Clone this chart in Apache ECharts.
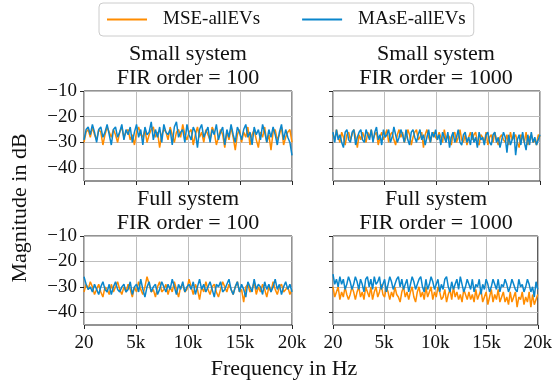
<!DOCTYPE html>
<html>
<head>
<meta charset="utf-8">
<script src="https://cdn.jsdelivr.net/npm/echarts@6/dist/echarts.min.js"></script>
<style>
  html, body { margin: 0; padding: 0; background: #fff; }
  #chart { width: 555px; height: 383px; }
</style>
</head>
<body>
<div id="chart"></div>
<script>
// series names / labels
const seriesNames = ['MSE-allEVs', 'MAsE-allEVs']
const panelTitles = [
  ['Small system', 'FIR order = 100'],
  ['Small system', 'FIR order = 1000'],
  ['Full system', 'FIR order = 100'],
  ['Full system', 'FIR order = 1000']
]
const xTicks = [20, 5000, 10000, 15000, 20000]
const xTickLabels = ['20', '5k', '10k', '15k', '20k']
const yTicks = [-40, -30, -20, -10]
const fMin = 20
const fMax = 20000

// magnitudes in dB (evenly spaced over 20 Hz .. 20 kHz)
const smallFir100Mse = [
  -30, -26, -25, -28, -24, -27, -29, -25, -26, -31, -27, -24, -26, -28, -25, -27, -30, -26, -24, -28,
  -26, -25, -29, -27, -31, -26, -24, -27, -28, -25, -30, -27, -25, -24, -28, -26, -32, -27, -25, -26,
  -29, -24, -27, -30, -26, -25, -28, -23, -27, -29, -26, -25, -31, -27, -24, -28, -26, -30, -25, -27,
  -29, -24, -26, -31, -28, -25, -27, -32, -26, -29, -24, -28, -33, -27, -25, -30, -26, -28, -24, -31,
  -27, -25, -29, -32, -26, -28, -24, -30, -27, -33, -26, -25, -29, -27, -24, -31, -28, -26, -25, -30
]
const smallFir100Mase = [
  -29, -25, -24, -27, -23, -26, -30, -25, -24, -28, -26, -23, -27, -31, -25, -24, -28, -26, -23, -29,
  -25, -27, -24, -30, -26, -23, -28, -25, -31, -24, -27, -26, -22, -29, -25, -28, -24, -30, -23, -26,
  -27, -25, -31, -24, -22, -28, -26, -25, -30, -23, -27, -29, -24, -26, -32, -25, -23, -28, -26, -24,
  -30, -25, -27, -23, -29, -26, -24, -31, -25, -28, -23, -27, -30, -24, -26, -29, -25, -23, -28, -26,
  -31, -24, -27, -25, -29, -23, -26, -30, -25, -28, -24, -27, -31, -26, -23, -29, -25, -28, -30, -35
]
const smallFir1000Mse = [
  -27, -29, -25, -28, -30, -26, -28, -31, -27, -26, -29, -27, -25, -28, -32, -27, -29, -26, -28, -30,
  -26, -28, -25, -29, -27, -26, -31, -28, -26, -29, -27, -25, -30, -27, -26, -29, -31, -27, -25, -28,
  -26, -30, -28, -25, -27, -31, -28, -26, -25, -29, -28, -26, -32, -27, -25, -28, -30, -27, -26, -28,
  -29, -26, -28, -30, -25, -29, -27, -28, -31, -27, -26, -30, -28, -25, -29, -30, -27, -31, -28, -26,
  -29, -27, -26, -30, -31, -27, -28, -30, -26, -31, -28, -27, -30, -26, -29, -31, -28, -27, -29, -30,
  -27, -31, -26, -29, -28, -27, -30, -32, -27, -28, -30, -26, -31, -28, -27, -30, -29, -31, -27, -28
]
const smallFir1000Mase = [
  -26, -30, -25, -29, -27, -30, -32, -26, -25, -29, -30, -26, -25, -31, -28, -26, -25, -29, -30, -25,
  -27, -29, -25, -30, -26, -24, -29, -27, -31, -25, -28, -27, -25, -30, -28, -24, -27, -30, -28, -25,
  -27, -30, -25, -29, -31, -26, -25, -28, -30, -27, -25, -29, -27, -31, -28, -25, -30, -26, -28, -25,
  -29, -27, -31, -26, -28, -30, -26, -32, -28, -26, -30, -28, -25, -30, -31, -27, -26, -30, -28, -31,
  -26, -30, -28, -32, -26, -29, -28, -31, -27, -26, -30, -31, -27, -26, -30, -28, -32, -29, -26, -28,
  -34, -27, -31, -29, -26, -35, -29, -27, -31, -26, -30, -33, -27, -31, -26, -30, -28, -31, -29, -27
]
const fullFir100Mse = [
  -32, -29, -31, -28, -30, -33, -31, -29, -32, -34, -30, -31, -33, -29, -32, -30, -28, -31, -33, -30,
  -32, -29, -31, -34, -30, -32, -28, -31, -33, -30, -26, -29, -32, -31, -34, -30, -28, -32, -31, -29,
  -33, -30, -32, -28, -31, -34, -30, -29, -32, -31, -27, -30, -33, -29, -31, -35, -30, -32, -28, -31,
  -33, -30, -29, -32, -34, -31, -28, -30, -32, -29, -31, -33, -30, -28, -32, -31, -36, -30, -29, -32,
  -31, -28, -33, -30, -32, -29, -31, -34, -30, -32, -28, -31, -33, -30, -29, -32, -31, -30, -33, -31
]
const fullFir100Mase = [
  -26, -29, -31, -30, -32, -29, -31, -33, -30, -28, -31, -32, -29, -33, -30, -28, -31, -32, -30, -29,
  -32, -31, -28, -33, -30, -29, -32, -27, -31, -34, -30, -28, -32, -30, -29, -33, -31, -28, -30, -32,
  -29, -31, -27, -30, -33, -29, -31, -28, -32, -30, -29, -31, -28, -33, -30, -27, -31, -29, -32, -30,
  -28, -31, -34, -29, -30, -28, -32, -31, -29, -27, -31, -33, -30, -28, -32, -29, -31, -34, -28, -30,
  -32, -27, -31, -29, -30, -33, -28, -31, -29, -32, -30, -27, -31, -29, -33, -30, -28, -31, -29, -32
]
const fullFir1000Mse = [
  -30, -34, -32, -30, -35, -32, -34, -30, -33, -35, -33, -30, -32, -35, -32, -30, -34, -32, -35, -30,
  -32, -34, -30, -35, -32, -30, -34, -32, -29, -33, -34, -30, -32, -35, -32, -34, -30, -33, -34, -36,
  -32, -30, -34, -32, -35, -32, -30, -34, -36, -32, -30, -34, -32, -35, -30, -34, -32, -30, -35, -32,
  -34, -30, -32, -35, -34, -31, -36, -33, -31, -35, -30, -34, -32, -35, -33, -36, -31, -33, -35, -32,
  -35, -33, -36, -31, -35, -33, -31, -36, -34, -32, -37, -34, -31, -36, -33, -35, -31, -36, -34, -32,
  -36, -34, -37, -32, -36, -34, -32, -38, -34, -35, -32, -37, -34, -36, -32, -38, -33, -37, -35, -33
]
const fullFir1000Mase = [
  -25, -29, -27, -30, -26, -29, -27, -31, -29, -26, -28, -31, -29, -26, -28, -31, -27, -29, -32, -27,
  -26, -30, -27, -31, -26, -29, -28, -26, -31, -29, -27, -32, -29, -26, -28, -31, -29, -27, -26, -30,
  -27, -31, -29, -27, -32, -29, -26, -28, -31, -29, -27, -26, -30, -32, -27, -31, -29, -26, -28, -31,
  -29, -27, -32, -29, -31, -27, -26, -30, -32, -28, -31, -29, -27, -31, -26, -29, -32, -30, -27, -29,
  -31, -27, -32, -29, -30, -27, -33, -29, -31, -27, -29, -32, -30, -27, -29, -31, -27, -32, -29, -30,
  -27, -29, -32, -30, -27, -29, -31, -32, -27, -30, -29, -32, -30, -27, -29, -32, -30, -34, -28, -31
]

const panelData = [
  [smallFir100Mse, smallFir100Mase],
  [smallFir1000Mse, smallFir1000Mase],
  [fullFir100Mse, fullFir100Mase],
  [fullFir1000Mse, fullFir1000Mase]
]

const colors = ['#ff8c00', '#0a86cc']
const font = "'Liberation Serif', 'DejaVu Serif', serif"

// pair the values with their frequency bins
function toPoints(values) {
  const step = (fMax - fMin) / (values.length - 1)
  return values.map((v, i) => [fMin + i * step, v])
}

const chart = echarts.init(document.getElementById('chart'))

const grids = [
  { left: 84, top: 91, width: 208, height: 90 },
  { left: 333, top: 91, width: 207, height: 90 },
  { left: 84, top: 236, width: 208, height: 89 },
  { left: 333, top: 236, width: 207, height: 89 }
].map(g => Object.assign({ show: true, borderColor: '#262626', borderWidth: 1, containLabel: false }, g))

const xAxes = grids.map((g, i) => ({
  type: 'value',
  gridIndex: i,
  min: fMin,
  max: fMax,
  axisLine: { show: false },
  axisTick: { show: true, length: 4, lineStyle: { color: '#262626' }, customValues: xTicks },
  axisLabel: {
    show: i >= 2,
    customValues: xTicks,
    formatter: v => xTickLabels[xTicks.indexOf(v)],
    margin: 9,
    fontFamily: font,
    fontSize: 19,
    color: '#111'
  },
  splitLine: { show: true, lineStyle: { color: '#bdbdbd', width: 1 } }
}))

const yAxes = grids.map((g, i) => ({
  type: 'value',
  gridIndex: i,
  min: -45,
  max: -10,
  axisLine: { show: false },
  axisTick: { show: true, length: 4, lineStyle: { color: '#262626' }, customValues: yTicks },
  axisLabel: {
    show: i % 2 === 0,
    customValues: yTicks,
    formatter: v => String(v).replace('-', '\u2212'),
    margin: 7,
    fontFamily: font,
    fontSize: 19,
    color: '#111'
  },
  splitLine: { show: true, lineStyle: { color: '#bdbdbd', width: 1 } }
}))

const series = []
panelData.forEach((pair, i) => {
  pair.forEach((vals, k) => {
    series.push({
      name: seriesNames[k],
      type: 'line',
      xAxisIndex: i,
      yAxisIndex: i,
      showSymbol: false,
      color: colors[k],
      lineStyle: { width: 1.5, color: colors[k] },
      data: toPoints(vals)
    })
  })
})

// panel titles + figure axis labels
const graphics = []
const titleCenters = [[188, 54], [436, 54], [188, 199], [436, 199]]
panelTitles.forEach((t, i) => {
  const [cx, cy] = titleCenters[i]
  t.forEach((line, j) => {
    graphics.push({
      type: 'text',
      x: cx,
      y: cy + j * 24,
      style: { text: line, font: '22px ' + font, fill: '#111', textAlign: 'center', textVerticalAlign: 'middle' }
    })
  })
})
graphics.push({
  type: 'text', x: 284, y: 369,
  style: { text: 'Frequency in Hz', font: '22px ' + font, fill: '#111', textAlign: 'center', textVerticalAlign: 'middle' }
})
graphics.push({
  type: 'text', x: 20, y: 208, rotation: Math.PI / 2,
  style: { text: 'Magnitude in dB', font: '22px ' + font, fill: '#111', textAlign: 'center', textVerticalAlign: 'middle' }
})

const option = {
  animation: false,
  backgroundColor: '#fff',
  legend: {
    data: seriesNames,
    left: 99,
    top: 3,
    icon: 'rect',
    itemWidth: 40,
    itemHeight: 2,
    itemGap: 42,
    padding: [7, 8, 7, 8],
    borderColor: '#cccccc',
    borderWidth: 1,
    borderRadius: 4,
    textStyle: { fontFamily: font, fontSize: 19, color: '#111', padding: [0, 0, 0, 11] }
  },
  grid: grids,
  xAxis: xAxes,
  yAxis: yAxes,
  series: series,
  graphic: graphics
}

chart.setOption(option)
window.addEventListener('resize', function () {
  chart.resize()
})
</script>
</body>
</html>
